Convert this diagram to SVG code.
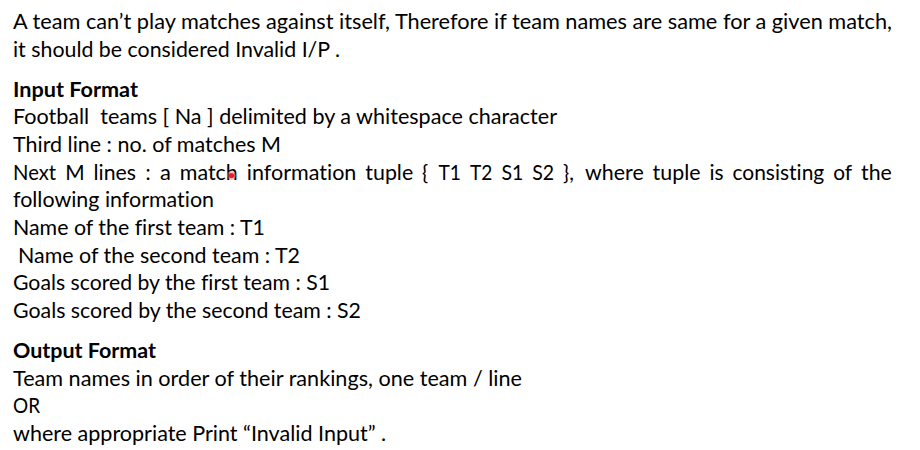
<svg xmlns="http://www.w3.org/2000/svg" width="920" height="450" viewBox="0 0 920 450">
<style>
text{font-family:Lato,"Open Sans","Liberation Sans",sans-serif;font-size:20.5px;fill:#000;font-variant-ligatures:none;white-space:pre}
.b{font-weight:bold}
</style>
<rect width="920" height="450" fill="#fff"/>
<g id="intro">
<text x="13" y="29" textLength="879" lengthAdjust="spacingAndGlyphs">A team can’t play matches against itself, Therefore if team names are same for a given match,</text>
<text x="13" y="57" textLength="327" lengthAdjust="spacingAndGlyphs">it should be considered Invalid I/P .</text>
</g>
<g id="input-format">
<text class="b" x="13" y="97" textLength="125" lengthAdjust="spacingAndGlyphs">Input Format</text>
<text x="13" y="124" textLength="544" lengthAdjust="spacingAndGlyphs" xml:space="preserve">Football  teams [ Na ] delimited by a whitespace character</text>
<text x="13" y="152" textLength="268" lengthAdjust="spacingAndGlyphs">Third line : no. of matches M</text>
<g id="justified-line">
<text x="13" y="180" textLength="43" lengthAdjust="spacingAndGlyphs">Next</text>
<text x="65.3" y="180" textLength="19.4" lengthAdjust="spacingAndGlyphs">M</text>
<text x="93.6" y="180" textLength="42.5" lengthAdjust="spacingAndGlyphs">lines</text>
<text x="145.5" y="180">:</text>
<text x="160" y="180" textLength="10.9" lengthAdjust="spacingAndGlyphs">a</text>
<text x="179.8" y="180" textLength="58" lengthAdjust="spacingAndGlyphs">match</text>
<text x="246.8" y="180" textLength="109.6" lengthAdjust="spacingAndGlyphs">information</text>
<text x="365.3" y="180" textLength="47.9" lengthAdjust="spacingAndGlyphs">tuple</text>
<text x="422.1" y="180">{</text>
<text x="438.4" y="180" textLength="22.4" lengthAdjust="spacingAndGlyphs">T1</text>
<text x="469.9" y="180" textLength="22.4" lengthAdjust="spacingAndGlyphs">T2</text>
<text x="501.4" y="180" textLength="21.9" lengthAdjust="spacingAndGlyphs">S1</text>
<text x="532.2" y="180" textLength="21.9" lengthAdjust="spacingAndGlyphs">S2</text>
<text x="563" y="180">},</text>
<text x="585" y="180" textLength="58.7" lengthAdjust="spacingAndGlyphs">where</text>
<text x="652.6" y="180" textLength="47.9" lengthAdjust="spacingAndGlyphs">tuple</text>
<text x="709.4" y="180" textLength="14.1" lengthAdjust="spacingAndGlyphs">is</text>
<text x="732.4" y="180" textLength="91.9" lengthAdjust="spacingAndGlyphs">consisting</text>
<text x="833.2" y="180" textLength="18.9" lengthAdjust="spacingAndGlyphs">of</text>
<text x="861" y="180" textLength="30.8" lengthAdjust="spacingAndGlyphs">the</text>
</g>
<text x="13" y="207" textLength="201" lengthAdjust="spacingAndGlyphs">following information</text>
<text x="13" y="235" textLength="252" lengthAdjust="spacingAndGlyphs">Name of the first team : T1</text>
<text x="18" y="263" textLength="282" lengthAdjust="spacingAndGlyphs">Name of the second team : T2</text>
<text x="13" y="290" textLength="317" lengthAdjust="spacingAndGlyphs">Goals scored by the first team : S1</text>
<text x="13" y="318" textLength="348" lengthAdjust="spacingAndGlyphs">Goals scored by the second team : S2</text>
</g>
<g id="output-format">
<text class="b" x="13" y="358" textLength="143" lengthAdjust="spacingAndGlyphs">Output Format</text>
<text x="13" y="386" textLength="509" lengthAdjust="spacingAndGlyphs">Team names in order of their rankings, one team / line</text>
<text x="13" y="413" textLength="27" lengthAdjust="spacingAndGlyphs">OR</text>
<text x="13" y="441" textLength="373" lengthAdjust="spacingAndGlyphs">where appropriate Print “Invalid Input” .</text>
</g>
<g id="cursor">
<circle cx="231.5" cy="175.5" r="4.5" fill="#ff6b6b" opacity="0.45"/>
<circle cx="231.5" cy="175.5" r="2.6" fill="#e8202a"/>
</g>
</svg>
